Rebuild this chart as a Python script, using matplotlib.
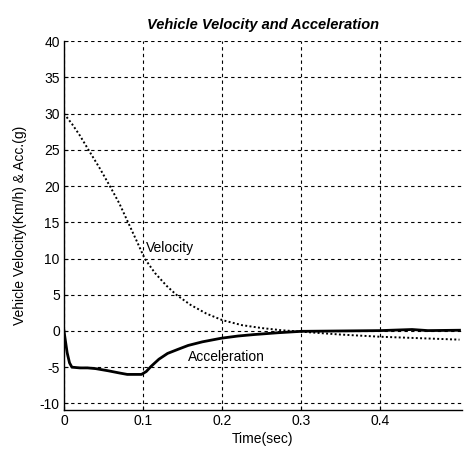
import matplotlib
matplotlib.use("Agg")
import matplotlib.pyplot as plt
import numpy as np

plt.rcParams['font.family'] = ['Liberation Sans', 'DejaVu Sans']

# Vehicle velocity (km/h) over time (s)
vel_t = [0.0, 0.010, 0.020, 0.031, 0.045, 0.058, 0.070, 0.081, 0.092, 0.102, 0.115,
         0.130, 0.142, 0.160, 0.180, 0.200, 0.225, 0.250, 0.275, 0.300, 0.350,
         0.400, 0.450, 0.500]
vel_v = [30.0, 28.6, 27.0, 25.0, 22.5, 20.0, 17.6, 15.0, 12.4, 10.0, 8.0,
         6.2, 5.0, 3.6, 2.4, 1.5, 0.8, 0.4, 0.1, -0.1, -0.5,
         -0.8, -1.0, -1.2]

# Vehicle acceleration (g) over time (s)
acc_t = [0.0, 0.002, 0.004, 0.007, 0.010, 0.020, 0.030, 0.040, 0.056, 0.070,
         0.080, 0.090, 0.098, 0.104, 0.110, 0.120, 0.131, 0.145, 0.157, 0.175,
         0.199, 0.220, 0.240, 0.270, 0.300, 0.350, 0.400, 0.440, 0.460, 0.500]
acc_v = [0.0, -1.5, -3.0, -4.4, -5.0, -5.1, -5.1, -5.2, -5.5, -5.8,
         -6.0, -6.0, -6.0, -5.6, -4.9, -3.9, -3.1, -2.5, -2.0, -1.5,
         -1.0, -0.7, -0.5, -0.25, -0.05, 0.0, 0.05, 0.2, 0.05, 0.1]

x_ticks = [0, 0.1, 0.2, 0.3, 0.4]
x_tick_labels = ['0', '0.1', '0.2', '0.3', '0.4']
y_ticks = [-10, -5, 0, 5, 10, 15, 20, 25, 30, 35, 40]
y_tick_labels = ['-10', '-5', '0', '5', '10', '15', '20', '25', '30', '35', '40']

fig = plt.figure(figsize=(4.67, 4.58), dpi=100)
ax = fig.add_axes([0.137, 0.105, 0.852, 0.805])

ax.plot(vel_t, vel_v, color='black', linestyle=(0, (1, 1.2)), linewidth=1.4)
ax.plot(acc_t, acc_v, color='black', linestyle='-', linewidth=2.0)

ax.set_xlim(0, 0.503)
ax.set_ylim(-10.9, 40)
ax.set_xticks(x_ticks)
ax.set_xticklabels(x_tick_labels)
ax.set_yticks(y_ticks)
ax.set_yticklabels(y_tick_labels)

ax.grid(True, color='black', linestyle=(0, (3, 3)), linewidth=0.8)
for side in ('top', 'right'):
    ax.spines[side].set_visible(False)
for side in ('left', 'bottom'):
    ax.spines[side].set_linewidth(1.0)

ax.tick_params(direction='in', length=3, labelsize=10, width=0.8, pad=3)

ax.set_title('Vehicle Velocity and Acceleration', fontsize=10.5,
             fontweight='bold', fontstyle='italic', pad=9)
ax.set_xlabel('Time(sec)', fontsize=10, labelpad=3)
ax.set_ylabel('Vehicle Velocity(Km/h) & Acc.(g)', fontsize=10, labelpad=9)

ax.text(0.104, 11.4, 'Velocity', fontsize=10, va='center', ha='left')
ax.text(0.157, -3.6, 'Acceleration', fontsize=10, va='center', ha='left')

fig.savefig('out.png', dpi=100)
